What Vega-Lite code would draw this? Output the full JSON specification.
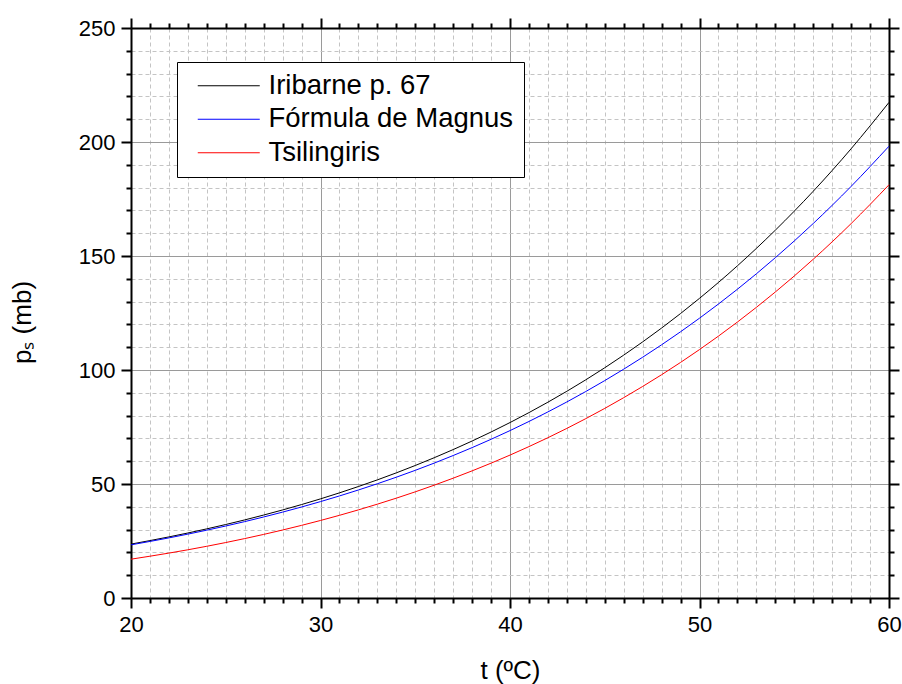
{
  "$schema": "https://vega.github.io/schema/vega-lite/v6.json",
  "width": 758,
  "height": 570,
  "autosize": {"type": "none"},
  "padding": {"left": 131, "top": 28, "right": 13, "bottom": 86},
  "background": "white",
  "config": {
    "font": "Liberation Sans",
    "view": {"stroke": null},
    "axis": {"labelFont": "Liberation Sans", "titleFont": "Liberation Sans", "labelColor": "black", "titleColor": "black"},
    "legend": {"labelFont": "Liberation Sans"}
  },
  "data": {
    "values": [
      {"t": 20, "p": 23.64, "s": "Iribarne p. 67"}, {"t": 22, "p": 26.79, "s": "Iribarne p. 67"}, {"t": 24, "p": 30.32, "s": "Iribarne p. 67"},
      {"t": 26, "p": 34.25, "s": "Iribarne p. 67"}, {"t": 28, "p": 38.62, "s": "Iribarne p. 67"}, {"t": 30, "p": 43.48, "s": "Iribarne p. 67"},
      {"t": 32, "p": 48.89, "s": "Iribarne p. 67"}, {"t": 34, "p": 54.88, "s": "Iribarne p. 67"}, {"t": 36, "p": 61.52, "s": "Iribarne p. 67"},
      {"t": 38, "p": 68.85, "s": "Iribarne p. 67"}, {"t": 40, "p": 76.95, "s": "Iribarne p. 67"}, {"t": 42, "p": 85.88, "s": "Iribarne p. 67"},
      {"t": 44, "p": 95.70, "s": "Iribarne p. 67"}, {"t": 46, "p": 106.52, "s": "Iribarne p. 67"}, {"t": 48, "p": 118.40, "s": "Iribarne p. 67"},
      {"t": 50, "p": 131.43, "s": "Iribarne p. 67"}, {"t": 52, "p": 145.69, "s": "Iribarne p. 67"}, {"t": 54, "p": 161.31, "s": "Iribarne p. 67"},
      {"t": 56, "p": 178.38, "s": "Iribarne p. 67"}, {"t": 58, "p": 197.03, "s": "Iribarne p. 67"}, {"t": 60, "p": 217.37, "s": "Iribarne p. 67"},
      {"t": 20, "p": 23.32, "s": "Fórmula de Magnus"}, {"t": 22, "p": 26.36, "s": "Fórmula de Magnus"}, {"t": 24, "p": 29.75, "s": "Fórmula de Magnus"},
      {"t": 26, "p": 33.50, "s": "Fórmula de Magnus"}, {"t": 28, "p": 37.67, "s": "Fórmula de Magnus"}, {"t": 30, "p": 42.28, "s": "Fórmula de Magnus"},
      {"t": 32, "p": 47.37, "s": "Fórmula de Magnus"}, {"t": 34, "p": 52.98, "s": "Fórmula de Magnus"}, {"t": 36, "p": 59.16, "s": "Fórmula de Magnus"},
      {"t": 38, "p": 65.96, "s": "Fórmula de Magnus"}, {"t": 40, "p": 73.42, "s": "Fórmula de Magnus"}, {"t": 42, "p": 81.61, "s": "Fórmula de Magnus"},
      {"t": 44, "p": 90.57, "s": "Fórmula de Magnus"}, {"t": 46, "p": 100.36, "s": "Fórmula de Magnus"}, {"t": 48, "p": 111.06, "s": "Fórmula de Magnus"},
      {"t": 50, "p": 122.72, "s": "Fórmula de Magnus"}, {"t": 52, "p": 135.42, "s": "Fórmula de Magnus"}, {"t": 54, "p": 149.24, "s": "Fórmula de Magnus"},
      {"t": 56, "p": 164.24, "s": "Fórmula de Magnus"}, {"t": 58, "p": 180.52, "s": "Fórmula de Magnus"}, {"t": 60, "p": 198.16, "s": "Fórmula de Magnus"},
      {"t": 20, "p": 17.03, "s": "Tsilingiris"}, {"t": 22, "p": 19.69, "s": "Tsilingiris"}, {"t": 24, "p": 22.69, "s": "Tsilingiris"},
      {"t": 26, "p": 26.06, "s": "Tsilingiris"}, {"t": 28, "p": 29.82, "s": "Tsilingiris"}, {"t": 30, "p": 34.00, "s": "Tsilingiris"},
      {"t": 32, "p": 38.65, "s": "Tsilingiris"}, {"t": 34, "p": 43.79, "s": "Tsilingiris"}, {"t": 36, "p": 49.48, "s": "Tsilingiris"},
      {"t": 38, "p": 55.76, "s": "Tsilingiris"}, {"t": 40, "p": 62.68, "s": "Tsilingiris"}, {"t": 42, "p": 70.30, "s": "Tsilingiris"},
      {"t": 44, "p": 78.67, "s": "Tsilingiris"}, {"t": 46, "p": 87.86, "s": "Tsilingiris"}, {"t": 48, "p": 97.93, "s": "Tsilingiris"},
      {"t": 50, "p": 108.96, "s": "Tsilingiris"}, {"t": 52, "p": 121.03, "s": "Tsilingiris"}, {"t": 54, "p": 134.20, "s": "Tsilingiris"},
      {"t": 56, "p": 148.56, "s": "Tsilingiris"}, {"t": 58, "p": 164.21, "s": "Tsilingiris"}, {"t": 60, "p": 181.23, "s": "Tsilingiris"}
    ]
  },
  "layer": [
    {
      "mark": {"type": "line", "strokeOpacity": 0},
      "encoding": {
        "x": {"field": "t", "type": "quantitative", "scale": {"domain": [20, 60], "nice": false, "zero": false},
          "axis": {"orient": "bottom", "values": [21,22,23,24,25,26,27,28,29,31,32,33,34,35,36,37,38,39,41,42,43,44,45,46,47,48,49,51,52,53,54,55,56,57,58,59],
            "labels": false, "title": null, "domain": false, "ticks": true, "tickSize": 5, "tickWidth": 2, "tickColor": "black",
            "grid": true, "gridColor": "#c4c4c4", "gridDash": [4, 3], "gridWidth": 1}},
        "y": {"field": "p", "type": "quantitative", "scale": {"domain": [0, 250], "nice": false},
          "axis": {"orient": "left", "values": [10,20,30,40,60,70,80,90,110,120,130,140,160,170,180,190,210,220,230,240],
            "labels": false, "title": null, "domain": false, "ticks": true, "tickSize": 5, "tickWidth": 2, "tickColor": "black",
            "grid": true, "gridColor": "#c4c4c4", "gridDash": [4, 3], "gridWidth": 1}},
        "detail": {"field": "s"}
      }
    },
    {
      "mark": {"type": "line", "strokeOpacity": 0},
      "encoding": {
        "x": {"field": "t", "type": "quantitative",
          "axis": {"orient": "top", "values": [21,22,23,24,25,26,27,28,29,31,32,33,34,35,36,37,38,39,41,42,43,44,45,46,47,48,49,51,52,53,54,55,56,57,58,59],
            "labels": false, "title": null, "domain": false, "ticks": true, "tickSize": 5, "tickWidth": 2, "tickColor": "black", "grid": false}},
        "y": {"field": "p", "type": "quantitative",
          "axis": {"orient": "right", "values": [10,20,30,40,60,70,80,90,110,120,130,140,160,170,180,190,210,220,230,240],
            "labels": false, "title": null, "domain": false, "ticks": true, "tickSize": 5, "tickWidth": 2, "tickColor": "black", "grid": false}},
        "detail": {"field": "s"}
      }
    },
    {
      "mark": {"type": "line", "strokeOpacity": 0},
      "encoding": {
        "x": {"field": "t", "type": "quantitative",
          "axis": {"orient": "top", "values": [20, 30, 40, 50, 60], "labels": false, "title": null,
            "domain": true, "domainColor": "black", "domainWidth": 2, "ticks": true, "tickSize": 10, "tickWidth": 2, "tickColor": "black", "grid": false}},
        "y": {"field": "p", "type": "quantitative",
          "axis": {"orient": "right", "values": [0, 50, 100, 150, 200, 250], "labels": false, "title": null,
            "domain": true, "domainColor": "black", "domainWidth": 2, "ticks": true, "tickSize": 10, "tickWidth": 2, "tickColor": "black", "grid": false}},
        "detail": {"field": "s"}
      }
    },
    {
      "mark": {"type": "line", "strokeWidth": 1, "interpolate": "monotone"},
      "encoding": {
        "x": {"field": "t", "type": "quantitative",
          "axis": {"orient": "bottom", "values": [20, 30, 40, 50, 60], "format": "d",
            "labelFontSize": 22, "labelPadding": 6, "labelFlush": false, "labelOverlap": false,
            "domain": true, "domainColor": "black", "domainWidth": 2, "ticks": true, "tickSize": 10, "tickWidth": 2, "tickColor": "black",
            "grid": true, "gridColor": "#9a9a9a", "gridWidth": 1,
            "title": "t (ºC)", "titleFontSize": 26, "titleFontWeight": "normal", "titleX": 379, "titleY": 80,
            "titleBaseline": "alphabetic", "titleAlign": "center"}},
        "y": {"field": "p", "type": "quantitative",
          "axis": {"orient": "left", "values": [0, 50, 100, 150, 200, 250], "format": "d",
            "labelFontSize": 22, "labelPadding": 6, "labelFlush": false, "labelOverlap": false,
            "domain": true, "domainColor": "black", "domainWidth": 2, "ticks": true, "tickSize": 10, "tickWidth": 2, "tickColor": "black",
            "grid": true, "gridColor": "#9a9a9a", "gridWidth": 1,
            "title": "pₛ (mb)", "titleFontSize": 26, "titleFontWeight": "normal", "titleAngle": 270, "titleX": -101, "titleY": 294,
            "titleBaseline": "alphabetic", "titleAlign": "center"}},
        "color": {"field": "s", "type": "nominal",
          "scale": {"domain": ["Iribarne p. 67", "Fórmula de Magnus", "Tsilingiris"], "range": ["#000000", "#0000ff", "#ff0000"]},
          "legend": {"title": null, "orient": "none", "legendX": 46, "legendY": 34, "direction": "vertical",
            "symbolType": "M-0.3,0H5.9", "symbolSize": 400, "symbolStrokeWidth": 1, "labelFontSize": 27.5, "labelColor": "black",
            "labelOffset": 54, "labelLimit": 500, "strokeColor": "black", "fillColor": "white", "padding": 10, "rowPadding": 4.5}}
      }
    }
  ],
  "resolve": {"axis": {"x": "independent", "y": "independent"}}
}
